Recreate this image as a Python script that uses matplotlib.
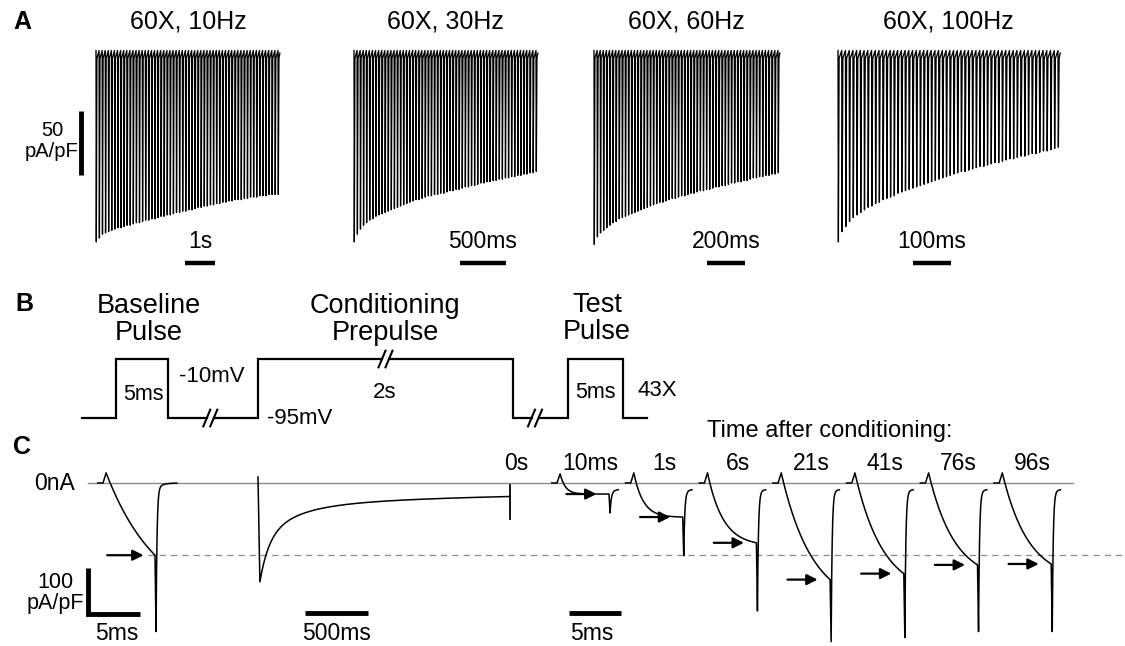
import numpy as np
import matplotlib.pyplot as plt

plt.rcParams['font.family'] = ['Liberation Sans', 'DejaVu Sans']

W, H = 1125, 646
fig = plt.figure(figsize=(W / 100, H / 100), dpi=100)

# ---------------------------------------------------------------
# DATA
# ---------------------------------------------------------------
# A: peak inward current of each pulse in the 60-pulse trains (pA/pF)
train_titles = ["60X, 10Hz", "60X, 30Hz", "60X, 60Hz", "60X, 100Hz"]
train_freq_hz = [10, 30, 60, 100]
train_bar_ms = [1000, 500, 200, 100]
train_bar_labels = ["1s", "500ms", "200ms", "100ms"]

peaks_10hz = [146, 143, 140, 139, 138, 137, 136, 135, 135, 134,
              133, 133, 132, 131, 131, 130, 129, 129, 128, 128,
              127, 126, 126, 125, 125, 124, 123, 123, 122, 122,
              121, 121, 120, 119, 119, 118, 118, 117, 117, 116,
              116, 115, 115, 114, 114, 113, 113, 113, 112, 112,
              111, 111, 111, 110, 110, 110, 109, 109, 109, 109]
peaks_30hz = [146, 140, 136, 133, 131, 129, 128, 126, 125, 124,
              123, 122, 121, 120, 119, 118, 117, 116, 115, 114,
              113, 113, 112, 111, 110, 110, 109, 109, 108, 108,
              107, 106, 106, 105, 105, 104, 103, 103, 102, 102,
              101, 100, 100, 99, 99, 98, 98, 97, 97, 96,
              96, 95, 95, 94, 94, 93, 93, 92, 92, 91]
peaks_60hz = [148, 142, 139, 137, 135, 133, 131, 130, 128, 127,
              126, 125, 124, 123, 122, 121, 120, 119, 118, 117,
              116, 115, 115, 114, 113, 112, 112, 111, 110, 110,
              109, 108, 108, 107, 106, 106, 105, 105, 104, 103,
              103, 102, 102, 101, 100, 100, 99, 99, 98, 98,
              97, 96, 96, 95, 95, 94, 94, 93, 93, 92]
peaks_100hz = [146, 138, 134, 130, 127, 125, 123, 121, 119, 118,
               116, 115, 113, 112, 111, 110, 108, 107, 106, 105,
               104, 103, 102, 101, 100, 99, 98, 97, 96, 95,
               94, 93, 92, 91, 91, 90, 89, 88, 87, 87,
               86, 85, 84, 84, 83, 82, 81, 81, 80, 79,
               79, 78, 77, 77, 76, 75, 75, 74, 73, 72]

# B: voltage protocol (schematic widths, breaks as fraction of segment)
step_levels_mv = [-95, -10, -95, -10, -95, -10, -95]
step_widths = [34, 52, 90, 255, 55, 55, 24]
step_breaks = [None, None, 0.47, 0.50, 0.40, None, None]

# C: currents (pA/pF)
pulse_ms = 5.0
baseline_bump = 22
baseline_plateau = -157
baseline_tail = -323
baseline_tau = 5.0

cond_duration_ms = 2000
cond_start_peak = 13
cond_amp = [90, 70, 35]
cond_tau_ms = [70, 250, 1500]
cond_steady = -20
cond_end_tick = [-4, -78]

test_labels = ["10ms", "1s", "6s", "21s", "41s", "76s", "96s"]
test_bump = [20, 22, 22, 22, 22, 22, 22]
test_plateau = [-24, -74, -130, -210, -197, -178, -176]
test_tail = [-65, -158, -278, -345, -336, -323, -323]
test_tau_ms = [0.5, 0.9, 1.5, 3.0, 2.7, 2.5, 2.5]


# ---------------------------------------------------------------
# helpers
# ---------------------------------------------------------------
def px_axes(left, top, width, height, x0, x_per_px, y_top, y_per_px):
    ax = fig.add_axes([left / W, 1 - (top + height) / H, width / W, height / H])
    ax.set_xlim(x0, x0 + width * x_per_px)
    ax.set_ylim(y_top - height * y_per_px, y_top)
    ax.axis('off')
    return ax


def label(x, y, s, size=16.5, **kw):
    kw.setdefault('ha', 'center')
    kw.setdefault('va', 'center')
    fig.text(x / W, 1 - y / H, s, fontsize=size, **kw)


def pulse_trace(bump, plateau, tail, tau, settle):
    t = np.arange(-0.5, pulse_ms + (2.1 if settle else 0.9), 0.005)
    i = np.zeros_like(t)
    rise = (t >= 0) & (t < 0.3)
    i[rise] = bump * t[rise] / 0.3
    on = (t >= 0.3) & (t <= pulse_ms)
    frac = (1 - np.exp(-(t[on] - 0.3) / tau)) / (1 - np.exp(-(pulse_ms - 0.3) / tau))
    i[on] = bump + (plateau - bump) * frac
    fall = (t > pulse_ms) & (t <= pulse_ms + 0.1)
    i[fall] = plateau + (tail - plateau) * (t[fall] - pulse_ms) / 0.1
    rec = t > pulse_ms + 0.1
    tr = t[rec] - pulse_ms - 0.1
    if settle:
        resid = -14 * np.exp(-tr / 0.5)
    else:
        resid = -14 - 16 * np.exp(-tr / 0.25)
    i[rec] = resid + (tail - resid) * np.exp(-tr / 0.09)
    return t, i


def arrow(ax, x0, x1, y):
    ax.annotate('', xy=(x1, y), xytext=(x0, y),
                arrowprops=dict(arrowstyle='-|>', color='black', lw=1.6,
                                mutation_scale=16, shrinkA=0, shrinkB=0))


# ---------------------------------------------------------------
# PANEL A
# ---------------------------------------------------------------
A_ZERO_Y = 55
A_PER_PX = 50 / 64
train_px = [(96, 278), (354, 536), (594, 778), (838, 1058)]
bar_centre_px = [200, 483, 726, 932]
title_x = [188, 445, 686, 948]
trains = [peaks_10hz, peaks_30hz, peaks_60hz, peaks_100hz]

label(22, 22, "A", size=18, weight='bold')
for k in range(4):
    period = 1000 / train_freq_hz[k]
    x_start, x_end = train_px[k]
    ms_px = (len(trains[k]) - 1) * period / (x_end - x_start)
    ax = px_axes(x_start - 20, 35, x_end - x_start + 40, 240,
                 -20 * ms_px, ms_px, 20 * A_PER_PX, A_PER_PX)
    t, y = [], []
    for n, pk in enumerate(trains[k]):
        t0 = n * period
        t += [t0, t0 + 0.1 * period, t0 + 0.3 * period]
        y += [3.5, -pk, -2.5]
    t.append((len(trains[k]) - 0.4) * period)
    y.append(1.5)
    ax.plot(t, y, color='black', lw=0.95)

    c = (bar_centre_px[k] - x_start) * ms_px
    yb = -(263 - A_ZERO_Y) * A_PER_PX
    ax.plot([c - train_bar_ms[k] / 2, c + train_bar_ms[k] / 2], [yb, yb],
            color='black', lw=3.2, solid_capstyle='butt', clip_on=False)
    label(bar_centre_px[k], 242, train_bar_labels[k])
    label(title_x[k], 22, train_titles[k], size=18)

    if k == 0:
        xv = (81 - x_start) * ms_px
        ytop = -(111 - A_ZERO_Y) * A_PER_PX
        ax.plot([xv, xv], [ytop, ytop - 50], color='black', lw=3.5,
                solid_capstyle='butt', clip_on=False)
label(52, 141, "50\npA/pF", size=14.5, linespacing=1.1)

# ---------------------------------------------------------------
# PANEL B
# ---------------------------------------------------------------
B_PER_PX = 85 / 59
axB = px_axes(70, 280, 600, 160, -12, 1, -95 + 138 * B_PER_PX, B_PER_PX)
lines = [[(0, step_levels_mv[0])]]
x = 0
gap = 3.5
for lev, w, br in zip(step_levels_mv, step_widths, step_breaks):
    cur = lines[-1]
    if cur[-1][1] != lev:
        cur.append((x, lev))
    if br is not None:
        xb = x + br * w
        cur.append((xb - gap, lev))
        for dx in (-gap, gap):
            axB.plot([xb + dx - 3.5, xb + dx + 3.5], [lev - 12, lev + 12],
                     color='black', lw=1.5)
        lines.append([(xb + gap, lev)])
    x += w
    lines[-1].append((x, lev))
for seg in lines:
    xs, ys = zip(*seg)
    axB.plot(xs, ys, color='black', lw=1.6, solid_joinstyle='miter')

label(24, 304, "B", size=18, weight='bold')
label(149, 320, "Baseline\nPulse", size=19.5, linespacing=1.05)
label(385, 320, "Conditioning\nPrepulse", size=19.5, linespacing=1.05)
label(597, 319, "Test\nPulse", size=19.5, linespacing=1.05)
label(143, 394, "5ms", size=15.5)
label(595, 393, "5ms", size=15.5)
label(212, 377, "-10mV", size=16)
label(300, 418, "-95mV", size=16)
label(385, 393, "2s", size=16)
label(657, 390, "43X", size=16)

# ---------------------------------------------------------------
# PANEL C
# ---------------------------------------------------------------
C_ZERO_Y = 483
C_PER_PX = 100 / 46
C_TOP = 436
C_H = 210
yt = (C_ZERO_Y - C_TOP) * C_PER_PX
fast_ms_px = 5 / 52
cond_ms_px = cond_duration_ms / 252

bg = px_axes(0, C_TOP, W, C_H, 0, 1, yt, C_PER_PX)
bg.plot([88, 1073], [0, 0], color='#8a8a8a', lw=1.0)
bg.plot([148, 1125], [baseline_plateau] * 2, color='#8a8a8a', lw=0.9,
        ls=(0, (5, 4)))

label(22, 447, "C", size=18, weight='bold')
label(75, 483, "0nA", ha='right')
label(830, 431, "Time after conditioning:", size=17)

# baseline pulse
ax1 = px_axes(40, C_TOP, 160, C_H, -(103 - 40) * fast_ms_px, fast_ms_px, yt, C_PER_PX)
t, i = pulse_trace(baseline_bump, baseline_plateau, baseline_tail, baseline_tau, True)
ax1.plot(t, i, color='black', lw=1.1)
arrow(ax1, 0.4, 3.9, baseline_plateau)
xc = (88 - 103) * fast_ms_px
yc = -(614 - C_ZERO_Y) * C_PER_PX
ax1.plot([xc, xc, xc + 5], [yc + 100, yc, yc], color='black', lw=3.5,
         solid_joinstyle='miter', solid_capstyle='butt', clip_on=False)
label(55, 593, "100\npA/pF", size=15.5, linespacing=0.95)
label(117, 633, "5ms")

# conditioning prepulse
ax2 = px_axes(230, C_TOP, 330, C_H, -(258 - 230) * cond_ms_px, cond_ms_px, yt, C_PER_PX)
tc = np.linspace(0, cond_duration_ms - 15, 800)
ic = cond_steady - sum(a * np.exp(-tc / tau) for a, tau in zip(cond_amp, cond_tau_ms))
ax2.plot(np.concatenate([[0], tc + 15]), np.concatenate([[cond_start_peak], ic]),
         color='black', lw=1.1)
ax2.plot([cond_duration_ms] * 2, cond_end_tick, color='black', lw=1.3)
bc = (336 - 258) * cond_ms_px
ybar = -(613 - C_ZERO_Y) * C_PER_PX
ax2.plot([bc - 250, bc + 250], [ybar, ybar], color='black', lw=3.5,
         solid_capstyle='butt', clip_on=False)
label(516, 464, "0s")
label(337, 633, "500ms")

# test pulses after conditioning
ax3 = px_axes(540, C_TOP, 585, C_H, -(557 - 540) * fast_ms_px, fast_ms_px, yt, C_PER_PX)
spacing_ms = 73.7 * fast_ms_px
for n in range(len(test_labels)):
    off = n * spacing_ms
    t, i = pulse_trace(test_bump[n], test_plateau[n], test_tail[n], test_tau_ms[n], False)
    ax3.plot(t + off, i, color='black', lw=1.1)
    arrow(ax3, off + 0.9, off + 3.8, test_plateau[n])
    ax3.text(off + 3.2, (C_ZERO_Y - 464) * C_PER_PX, test_labels[n],
             fontsize=16.5, ha='center', va='center')
xb0 = (569 - 557) * fast_ms_px
ax3.plot([xb0, xb0 + 5], [ybar, ybar], color='black', lw=3.5,
         solid_capstyle='butt', clip_on=False)
label(592, 633, "5ms")

fig.savefig("out.png", dpi=100)
